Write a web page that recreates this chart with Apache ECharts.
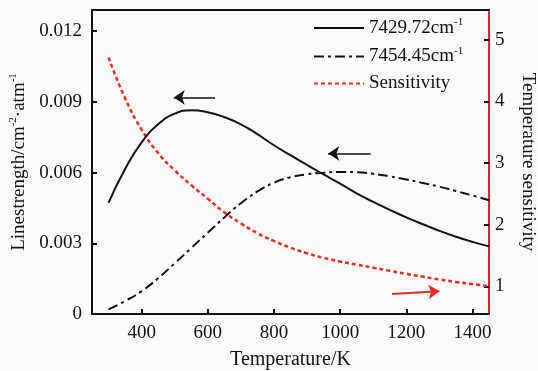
<!DOCTYPE html>
<html>
<head>
<meta charset="utf-8">
<script src="https://cdn.jsdelivr.net/npm/echarts@6/dist/echarts.min.js"></script>
<style>
  html, body { margin: 0; padding: 0; background: #fbfbfb; }
  #chart { width: 538px; height: 371px; }
</style>
</head>
<body>
<div id="chart"></div>
<script>
// temperatures (K) shared by all three curves
const temps = [300, 350, 400, 450, 500, 550, 600, 650, 700, 750, 800, 850, 900, 950, 1000, 1050, 1100, 1150, 1200, 1250, 1300, 1350, 1400, 1450]
// line strength, cm-2 atm-1
const line7429 = [0.00472, 0.00615, 0.00728, 0.00805, 0.0085, 0.00865, 0.00856, 0.00835, 0.00805, 0.00763, 0.00716, 0.00674, 0.00633, 0.00592, 0.00553, 0.00512, 0.00476, 0.00442, 0.0041, 0.00381, 0.00353, 0.00328, 0.00306, 0.00287]
const line7454 = [0.0002, 0.00055, 0.00097, 0.00152, 0.00215, 0.0028, 0.00345, 0.0041, 0.0047, 0.0052, 0.00557, 0.0058, 0.00593, 0.00599, 0.00603, 0.00602, 0.00595, 0.00584, 0.00571, 0.00556, 0.0054, 0.00522, 0.00503, 0.00483]
// temperature sensitivity (right axis)
const sensitivity = [4.71, 4.05, 3.54, 3.16, 2.88, 2.64, 2.42, 2.2, 2.02, 1.86, 1.735, 1.625, 1.535, 1.46, 1.4, 1.35, 1.3, 1.25, 1.2, 1.155, 1.11, 1.07, 1.035, 1.0]

const xTicks = [400, 600, 800, 1000, 1200, 1400]
const leftTicks = [0, 0.003, 0.006, 0.009, 0.012]
const rightTicks = [1, 2, 3, 4, 5]

// arrows pointing at the axis each curve belongs to
const arrowSolid = [[622, 0.00919], [497, 0.00919]]
const arrowDashDot = [[1092, 0.00681], [964, 0.00681]]
const arrowSens = [[1157, 0.875], [1300, 0.92]]

const font = "'Liberation Serif', 'Times New Roman', serif"
const pairs = (ys) => temps.map((t, i) => [t, ys[i]])

const chart = echarts.init(document.getElementById("chart"))

const supRich = {
  a: { fontSize: 19, fontFamily: font, color: "#111", lineHeight: 22 },
  sup: { fontSize: 11, fontFamily: font, color: "#111", verticalAlign: "top", lineHeight: 12 },
}

const arrowLine = (coords, color, width) => ({
  silent: true,
  animation: false,
  symbol: ["none", "arrow"],
  symbolSize: 11,
  label: { show: false },
  emphasis: { disabled: true },
  itemStyle: { color: color },
  lineStyle: { color: color, width: width, type: "solid" },
  data: [[{ coord: coords[0] }, { coord: coords[1] }]],
})

const option = {
  animation: false,
  backgroundColor: "#fbfbfb",
  textStyle: { fontFamily: font },
  grid: { left: 92, right: 49, top: 10, bottom: 57, outerBoundsMode: "none", containLabel: false },
  legend: {
    left: 308,
    top: 12,
    orient: "vertical",
    itemWidth: 50,
    itemHeight: 14,
    itemGap: 8,
    itemStyle: { opacity: 0 },
    textStyle: { fontFamily: font, fontSize: 19, color: "#111", rich: supRich },
    formatter: (name) => {
      if (name === "Sensitivity") return "{a|Sensitivity}"
      return "{a|" + name + "cm}{sup|-1}"
    },
    data: ["7429.72", "7454.45", "Sensitivity"],
  },
  xAxis: [
    {
      type: "value",
      min: 250,
      max: 1450,
      name: "Temperature/K",
      nameLocation: "middle",
      nameGap: 36,
      nameTextStyle: { fontFamily: font, fontSize: 20, color: "#111" },
      axisLine: { lineStyle: { color: "#111", width: 2 } },
      axisTick: { inside: true, length: 5, lineStyle: { color: "#111", width: 2 }, customValues: xTicks },
      axisLabel: { fontFamily: font, fontSize: 19, color: "#111", margin: 10, customValues: xTicks, formatter: (v) => String(v) },
      splitLine: { show: false },
    },
    {
      type: "value",
      position: "top",
      min: 250,
      max: 1450,
      axisLine: { show: true, lineStyle: { color: "#111", width: 2 } },
      axisTick: { show: false },
      axisLabel: { show: false },
      splitLine: { show: false },
    },
  ],
  yAxis: [
    {
      type: "value",
      min: 0,
      max: 0.0129,
      name: "{a|Linestrength/cm}{sup|-2}{a|·atm}{sup|-1}",
      nameLocation: "middle",
      nameRotate: 90,
      nameGap: 61,
      nameTextStyle: { rich: supRich },
      axisLine: { show: true, lineStyle: { color: "#111", width: 2 } },
      axisTick: { inside: true, length: 5, lineStyle: { color: "#111", width: 2 }, customValues: leftTicks },
      axisLabel: {
        fontFamily: font,
        fontSize: 19,
        color: "#111",
        margin: 10,
        customValues: leftTicks,
        formatter: (v) => (v === 0 ? "0" : v.toFixed(3)),
      },
      splitLine: { show: false },
    },
    {
      type: "value",
      position: "right",
      min: 0.55,
      max: 5.48,
      name: "Temperature sensitivity",
      nameLocation: "middle",
      nameRotate: -90,
      nameGap: 29,
      nameTextStyle: { fontFamily: font, fontSize: 19, color: "#111" },
      axisLine: { show: true, lineStyle: { color: "#e8221c", width: 2 } },
      axisTick: { inside: true, length: 5, lineStyle: { color: "#111", width: 2 }, customValues: rightTicks },
      axisLabel: { fontFamily: font, fontSize: 19, color: "#111", margin: 6, customValues: rightTicks },
      splitLine: { show: false },
    },
  ],
  series: [
    {
      name: "Sensitivity",
      type: "line",
      yAxisIndex: 1,
      smooth: true,
      symbol: "none",
      data: pairs(sensitivity),
      lineStyle: { color: "#ee2a22", width: 2.5, type: [4, 3] },
      itemStyle: { color: "#ee2a22" },
      markLine: arrowLine(arrowSens, "#ee2a22", 2),
      z: 2,
    },
    {
      name: "7454.45",
      type: "line",
      smooth: true,
      symbol: "none",
      data: pairs(line7454),
      lineStyle: { color: "#111", width: 2, type: [10, 4, 3, 4] },
      itemStyle: { color: "#111" },
      markLine: arrowLine(arrowDashDot, "#111", 1.5),
      z: 3,
    },
    {
      name: "7429.72",
      type: "line",
      smooth: true,
      symbol: "none",
      data: pairs(line7429),
      lineStyle: { color: "#111", width: 2 },
      itemStyle: { color: "#111" },
      markLine: arrowLine(arrowSolid, "#111", 1.5),
      z: 4,
    },
  ],
}

chart.setOption(option)
</script>
</body>
</html>
